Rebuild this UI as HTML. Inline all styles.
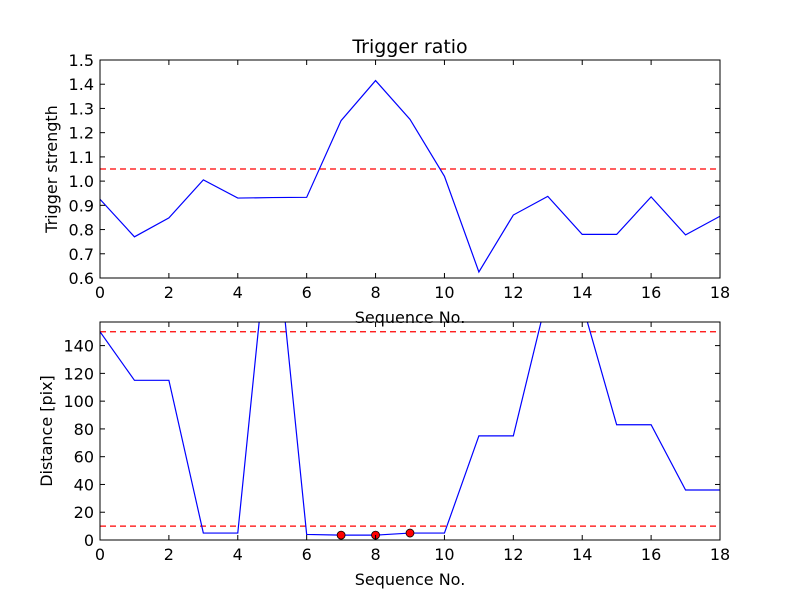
<!DOCTYPE html>
<html><head><meta charset="utf-8"><style>
body{margin:0;background:#fff}
svg{display:block;font-family:"DejaVu Sans","Liberation Sans",sans-serif}
</style></head><body>
<svg id="chart" width="800" height="600"></svg>
<script>
const xs=[0,1,2,3,4,5,6,7,8,9,10,11,12,13,14,15,16,17,18];
const strength=[0.925,0.77,0.848,1.005,0.93,0.932,0.933,1.25,1.415,1.255,1.02,0.625,0.86,0.937,0.78,0.78,0.935,0.778,0.855];
const distance=[150,115,115,5,5,250,4,3.5,3.5,5,5,75,75,177,170,83,83,36,36];
const markedIdx=[7,8,9];
const xTicks=[0,2,4,6,8,10,12,14,16,18];
const yTicksTop=[0.6,0.7,0.8,0.9,1.0,1.1,1.2,1.3,1.4,1.5];
const yTicksBot=[0,20,40,60,80,100,120,140];
const thrTop=[1.05];
const thrBot=[150,10];
const NS='http://www.w3.org/2000/svg';
const svg=document.getElementById('chart');
function mk(t,a,p){const e=document.createElementNS(NS,t);for(const k in a)e.setAttribute(k,a[k]);(p||svg).appendChild(e);return e;}
function panel(cfg){
  const g=mk('g',{});
  
  
  const L=100,R=720,T=cfg.top,B=cfg.bottom;
  const sx=v=>L+(v-0)/(18-0)*(R-L);
  const sy=v=>B-(v-cfg.ymin)/(cfg.ymax-cfg.ymin)*(B-T);
  const cid='clip'+cfg.name;
  const cp=mk('clipPath',{id:cid},g);mk('rect',{x:L,y:T,width:R-L,height:B-T},cp);
  const pl=mk('g',{'clip-path':'url(#'+cid+')'},g);
  cfg.thr.forEach(v=>{const l=mk('line',{x1:L,x2:R,y1:sy(v),y2:sy(v),stroke:'#ff0000','stroke-width':1.2,'stroke-dasharray':'6,4'},pl);
    });
  const p=mk('polyline',{points:xs.map((x,i)=>sx(x)+','+sy(cfg.data[i])).join(' '),fill:'none',stroke:'#0000ff','stroke-width':1.2},pl);
  
  (cfg.marks||[]).forEach(i=>{const c=mk('circle',{cx:sx(xs[i]),cy:sy(cfg.data[i]),r:4,fill:'#ff0000',stroke:'#000','stroke-width':0.8},g);
    });
  mk('rect',{x:L,y:T,width:R-L,height:B-T,fill:'none',stroke:'#000','stroke-width':1},g);
  xTicks.forEach(v=>{const x=sx(v);
    mk('line',{x1:x,x2:x,y1:B,y2:B-5,stroke:'#000'},g);mk('line',{x1:x,x2:x,y1:T,y2:T+5,stroke:'#000'},g);
    const t=mk('text',{x:x,y:B+20,'text-anchor':'middle','font-size':16},g);t.textContent=v;
    });
  cfg.yt.forEach(v=>{const y=sy(v);
    mk('line',{x1:L,x2:L+5,y1:y,y2:y,stroke:'#000'},g);mk('line',{x1:R,x2:R-5,y1:y,y2:y,stroke:'#000'},g);
    const t=mk('text',{x:L-6,y:y+6,'text-anchor':'end','font-size':16},g);t.textContent=cfg.fmt(v);
    });
  const xl=mk('text',{x:410,y:B+45,'text-anchor':'middle','font-size':16},g);xl.textContent='Sequence No.';
  
  const yl=mk('text',{x:0,y:0,'text-anchor':'middle','font-size':16,transform:'translate('+cfg.ylx+','+((T+B)/2)+') rotate(-90)'},g);yl.textContent=cfg.ylabel;
  
}
const title=mk('text',{x:410,y:53,'text-anchor':'middle','font-size':19});title.textContent='Trigger ratio';

panel({name:'trigger-panel',top:60,bottom:278,ymin:0.6,ymax:1.5,data:strength,thr:thrTop,yt:yTicksTop,fmt:v=>v.toFixed(1),ylabel:'Trigger strength',ylx:57});
panel({name:'distance-panel',top:322,bottom:540,ymin:0,ymax:157,data:distance,thr:thrBot,yt:yTicksBot,fmt:v=>String(v),ylabel:'Distance [pix]',ylx:52,marks:markedIdx});
</script>
</body></html>
